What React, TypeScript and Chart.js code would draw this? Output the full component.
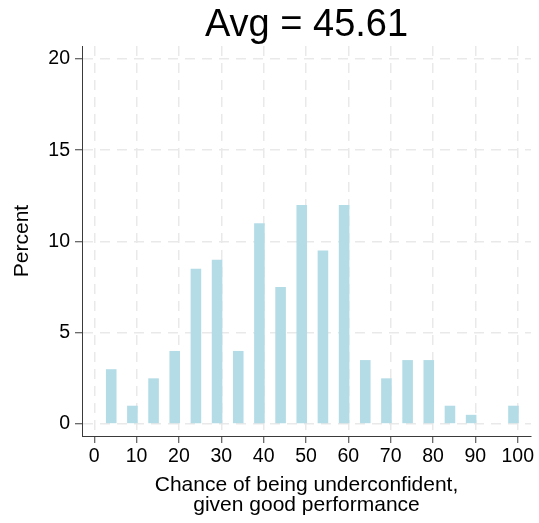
import React, { useEffect, useRef } from "react";
import { Chart, registerables } from "chart.js";

Chart.register(...registerables);

// Bin positions (percent chance) and the share of respondents in each bin
const binCenters = [4, 9, 14, 19, 24, 29, 34, 39, 44, 49, 54, 59, 64, 69, 74, 79, 84, 89, 94, 99];
const percents = [3, 1, 2.5, 4, 8.5, 9, 4, 11, 7.5, 12, 9.5, 12, 3.5, 2.5, 3.5, 3.5, 1, 0.5, 0, 1];
const xTickValues = [0, 10, 20, 30, 40, 50, 60, 70, 80, 90, 100];
const yTickValues = [0, 5, 10, 15, 20];
const titleText = "Avg = 45.61";
const xTitleLines = ["Chance of being underconfident,", "given good performance"];
const yTitleText = "Percent";

const FONT = "'Liberation Sans', Arial, Helvetica, sans-serif";

export default function App() {
  const canvasRef = useRef<HTMLCanvasElement | null>(null);

  useEffect(() => {
    if (!canvasRef.current) return;
    const gridColor = "#e9e9e9";
    const axisColor = "#3a3a3a";
    const chart = new Chart(canvasRef.current, {
      type: "bar",
      data: {
        datasets: [
          {
            data: binCenters.map((x, i) => ({ x, y: percents[i] })),
            backgroundColor: "#b3dce6",
            borderWidth: 0,
            barPercentage: 0.5,
            categoryPercentage: 1,
          },
        ],
      },
      options: {
        animation: false,
        responsive: true,
        maintainAspectRatio: false,
        layout: { padding: { left: 0, top: 0, right: 8, bottom: 0 } },
        plugins: {
          legend: { display: false },
          tooltip: { enabled: false },
          title: {
            display: true,
            text: titleText,
            fullSize: false,
            color: "#000",
            font: { family: FONT, size: 38, weight: "normal", lineHeight: "40.4px" },
            padding: { top: 5.6, bottom: 0 },
          },
        },
        scales: {
          x: {
            type: "linear",
            offset: false,
            min: -2.9,
            max: 103.14,
            afterBuildTicks: (axis: any) => {
              axis.ticks = xTickValues.map((v) => ({ value: v }));
            },
            afterFit: (scale: any) => {
              scale.height = 87;
              scale.paddingLeft = 0;
              scale.paddingRight = 0;
            },
            ticks: {
              color: "#000",
              padding: 2,
              maxRotation: 0,
              autoSkip: false,
              font: { family: FONT, size: 19.5 },
            },
            grid: {
              offset: false,
              color: gridColor,
              lineWidth: 1.5,
              tickColor: axisColor,
              tickLength: 7,
              tickWidth: 1,
            },
            border: { display: true, color: axisColor, width: 1, dash: [10, 7] },
            title: {
              display: true,
              text: xTitleLines,
              color: "#000",
              font: { family: FONT, size: 21, lineHeight: "20.4px" },
              padding: { top: 0, bottom: 7.4 },
            },
          },
          y: {
            type: "linear",
            min: -0.66,
            max: 20.71,
            afterBuildTicks: (axis: any) => {
              axis.ticks = yTickValues.map((v) => ({ value: v }));
            },
            afterFit: (scale: any) => {
              scale.width = 82;
              scale.paddingTop = 0;
              scale.paddingBottom = 0;
            },
            ticks: {
              color: "#000",
              padding: 5,
              font: { family: FONT, size: 19.5 },
            },
            grid: {
              color: gridColor,
              lineWidth: 1.5,
              tickColor: axisColor,
              tickLength: 7,
              tickWidth: 1,
            },
            border: { display: true, color: axisColor, width: 1, dash: [10, 7] },
            title: {
              display: true,
              text: yTitleText,
              color: "#000",
              font: { family: FONT, size: 21, lineHeight: 1.2 },
              padding: { top: 9.9, bottom: 0 },
            },
          },
        },
      },
    });
    return () => chart.destroy();
  }, []);

  return (
    <div style={{ position: "fixed", left: 0, top: 0, width: 539, height: 523 }}>
      <canvas ref={canvasRef} />
    </div>
  );
}
